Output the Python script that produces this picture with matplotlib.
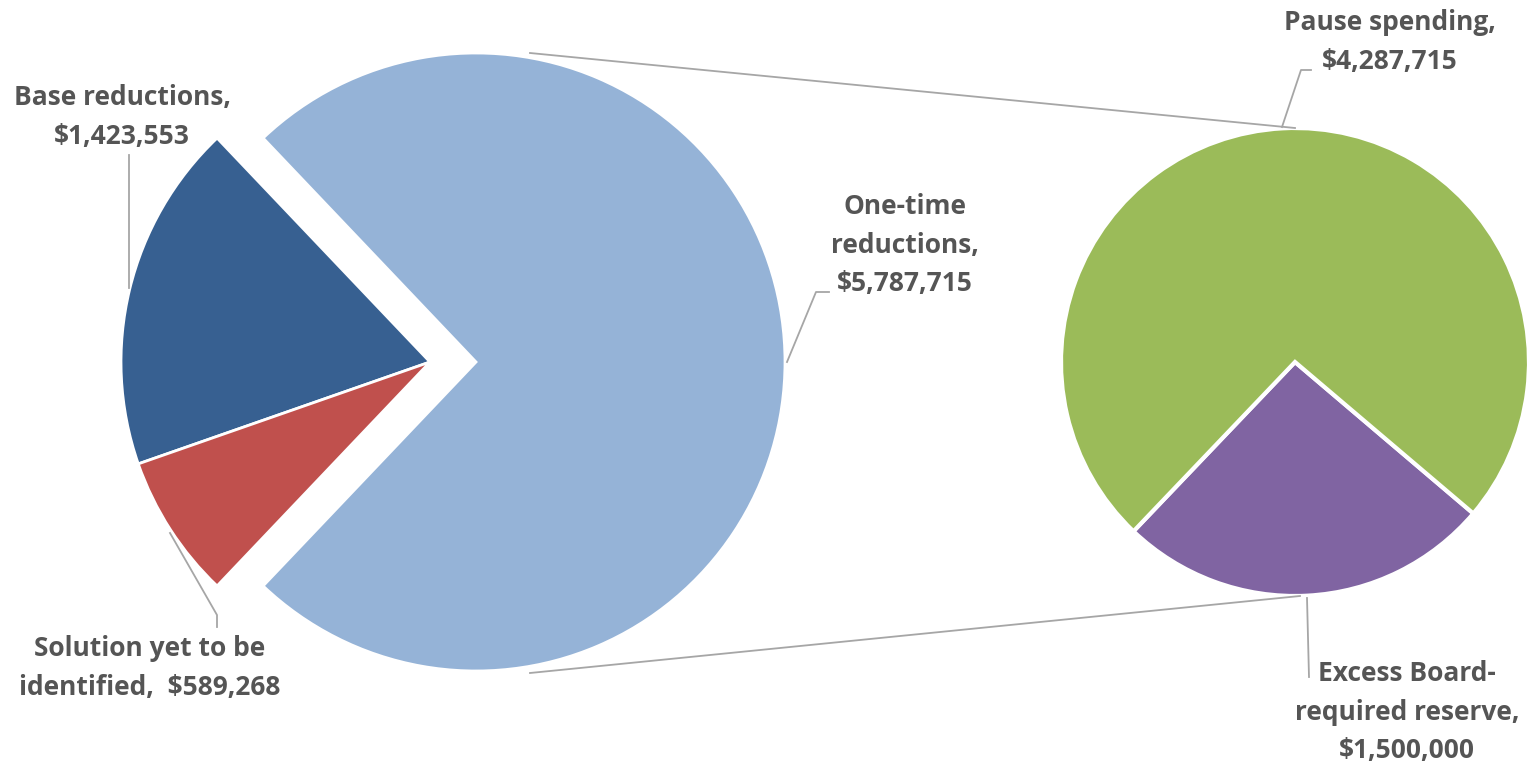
import numpy as np
import matplotlib.pyplot as plt

# left pie
left_labels = ["One-time\nreductions,\n$5,787,715", "Base reductions,\n$1,423,553",
               "Solution yet to be\nidentified,  $589,268"]
left_values = [5787715, 1423553, 589268]
left_colors = ["#95B3D7", "#376091", "#C0504D"]

# right pie (breakdown of one-time reductions)
right_labels = ["Excess Board-\nrequired reserve,\n$1,500,000", "Pause spending,\n$4,287,715"]
right_values = [1500000, 4287715]
right_colors = ["#8064A2", "#9BBB59"]

W, H = 1537, 763
fig = plt.figure(figsize=(W / 100, H / 100), dpi=100)
ax = fig.add_axes([0, 0, 1, 1])

lc, lr = (430, 401), 309
rc, rr = (1295, 401), 234

big = left_values[0] / sum(left_values) * 360
ax.pie(left_values, colors=left_colors, startangle=-big / 2, center=lc, radius=lr,
       explode=[46, 0, 0], wedgeprops=dict(edgecolor="white", linewidth=2),
       frame=True)

sm = right_values[0] / sum(right_values) * 360
ax.pie(right_values, colors=right_colors, startangle=273 - sm / 2, center=rc, radius=rr,
       wedgeprops=dict(edgecolor="white", linewidth=3), frame=True)
ax.set_xlim(0, W)
ax.set_ylim(0, H)
ax.set_aspect("equal")
ax.axis("off")

gray = "#A6A6A6"
# connector lines between the pies
ax.plot([530, rc[0]], [H - 53, rc[1] + rr], color=gray, lw=1.3)
ax.plot([530, rc[0] + 5], [H - 673, rc[1] - rr], color=gray, lw=1.3)

# leader lines
leaders = [
    ([129, 129], [155, 288]),
    ([170, 217, 217], [533, 615, 627]),
    ([787, 816, 829], [362, 292, 292]),
    ([1282, 1301, 1311], [127, 70, 70]),
    ([1307, 1309], [598, 677]),
]
for xs, ys in leaders:
    ax.plot(xs, [H - y for y in ys], color=gray, lw=1.3)

txt = dict(ha="center", va="center", multialignment="center", color="#555555",
           fontsize=19, fontweight="bold", family="Open Sans", linespacing=1.55)
ax.text(905, H - 245, left_labels[0], **txt)
ax.text(122, H - 117, left_labels[1], **txt)
ax.text(150, H - 668, left_labels[2], **txt)
ax.text(1407, H - 712, right_labels[0], **txt)
ax.text(1390, H - 42, right_labels[1], **txt)

fig.savefig("out.png", dpi=100)
